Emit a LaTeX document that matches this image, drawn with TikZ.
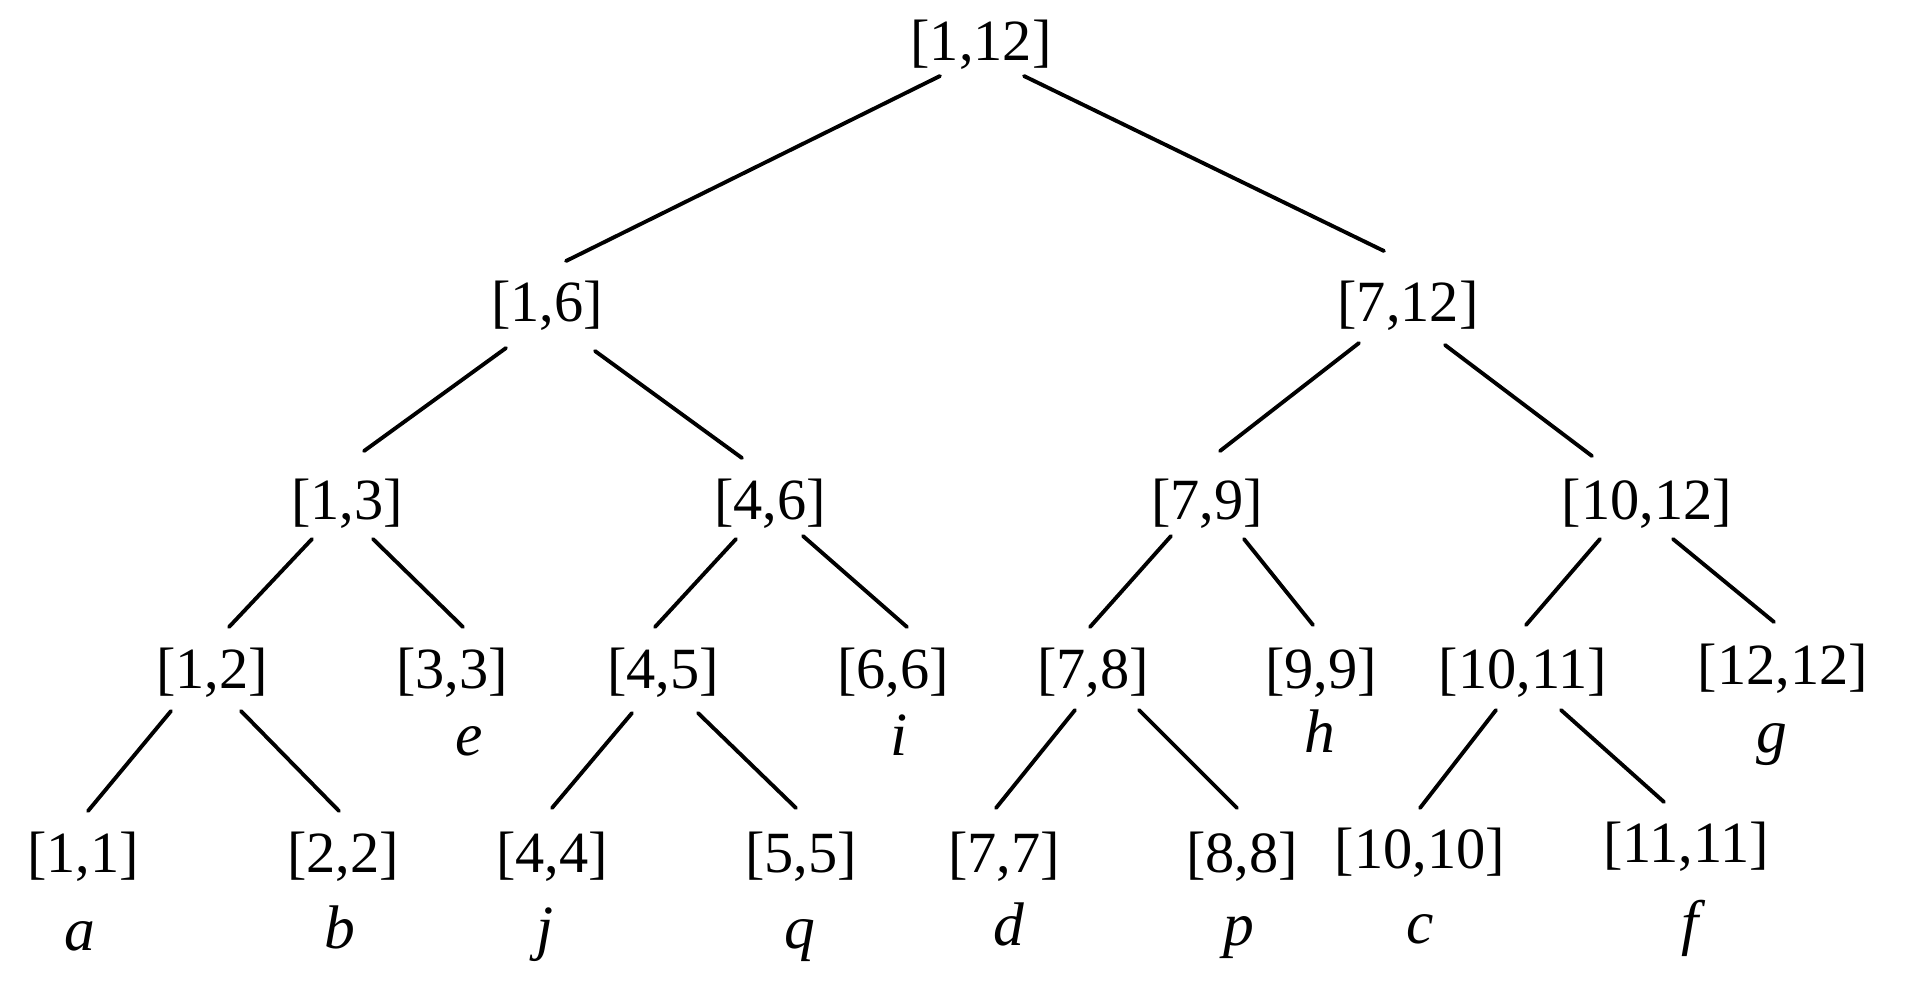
\documentclass[tikz,border=0pt]{standalone}
\usepackage{fontspec}
\setmainfont{Liberation Serif}
\begin{document}
\begin{tikzpicture}[x=0.01cm,y=-0.01cm,
 lab/.style={inner sep=0pt, font=\fontsize{16.6}{20}\selectfont},
 let/.style={inner sep=0pt, anchor=base, font=\fontsize{17.5}{20}\selectfont\itshape},
 edge/.style={line width=1.1pt, line cap=round}]
\useasboundingbox[fill=white] (0,0) rectangle (1920,1002);
% level 0-5 labels
\node[lab] (r) at (981,45) {[1,12]};
\node[lab] (n16) at (547,306) {[1,6]};
\node[lab] (n712) at (1408,306) {[7,12]};
\node[lab] (n13) at (347,504) {[1,3]};
\node[lab] (n46) at (770,504) {[4,6]};
\node[lab] (n79) at (1207,504) {[7,9]};
\node[lab] (n1012) at (1647,504) {[10,12]};
\node[lab] (n12) at (212,673) {[1,2]};
\node[lab] (n33) at (452,673) {[3,3]};
\node[lab] (n45) at (663,673) {[4,5]};
\node[lab] (n66) at (893,673) {[6,6]};
\node[lab] (n78) at (1093,673) {[7,8]};
\node[lab] (n99) at (1321,673) {[9,9]};
\node[lab] (n1011) at (1523,673) {[10,11]};
\node[lab] (n1212) at (1783,669) {[12,12]};
\node[lab] (n11) at (83,857) {[1,1]};
\node[lab] (n22) at (343,857) {[2,2]};
\node[lab] (n44) at (552,857) {[4,4]};
\node[lab] (n55) at (801,857) {[5,5]};
\node[lab] (n77) at (1004,857) {[7,7]};
\node[lab] (n88) at (1242,857) {[8,8]};
\node[lab] (n1010) at (1420,853) {[10,10]};
\node[lab] (n1111) at (1686,847) {[11,11]};
% letters
\node[let] (le) at (469,755) {e};
\node[let] (li) at (899,755) {i};
\node[let] (lh) at (1320,752) {h};
\node[let] (lg) at (1772,752) {g};
\node[let] (la) at (80,950) {a};
\node[let] (lb) at (340,948) {b};
\node[let] (lj) at (545,948) {j};
\node[let] (lq) at (800,948) {q};
\node[let] (ld) at (1009,945) {d};
\node[let] (lp) at (1239,945) {p};
\node[let] (lc) at (1420,943) {c};
\node[let] (lf) at (1690,943) {f};
% edges
\draw[edge] ([shift={(-41,31)}]r.center) -- ([shift={(19,-45)}]n16.center);
\draw[edge] ([shift={(43,31)}]r.center) -- ([shift={(-24,-55)}]n712.center);
\draw[edge] ([shift={(-41,42)}]n16.center) -- ([shift={(17,-53)}]n13.center);
\draw[edge] ([shift={(48,45)}]n16.center) -- ([shift={(-28,-46)}]n46.center);
\draw[edge] ([shift={(-49,37)}]n712.center) -- ([shift={(13,-53)}]n79.center);
\draw[edge] ([shift={(37,39)}]n712.center) -- ([shift={(-55,-48)}]n1012.center);
\draw[edge] ([shift={(-35,35)}]n13.center) -- ([shift={(17,-46)}]n12.center);
\draw[edge] ([shift={(26,35)}]n13.center) -- ([shift={(11,-46)}]n33.center);
\draw[edge] ([shift={(-34,35)}]n46.center) -- ([shift={(-8,-46)}]n45.center);
\draw[edge] ([shift={(33,32)}]n46.center) -- ([shift={(14,-46)}]n66.center);
\draw[edge] ([shift={(-36,32)}]n79.center) -- ([shift={(-3,-46)}]n78.center);
\draw[edge] ([shift={(37,35)}]n79.center) -- ([shift={(-8,-48)}]n99.center);
\draw[edge] ([shift={(-47,35)}]n1012.center) -- ([shift={(3,-48)}]n1011.center);
\draw[edge] ([shift={(26,35)}]n1012.center) -- ([shift={(-9,-47)}]n1212.center);
\draw[edge] ([shift={(-41,38)}]n12.center) -- ([shift={(5,-46)}]n11.center);
\draw[edge] ([shift={(29,38)}]n12.center) -- ([shift={(-4,-46)}]n22.center);
\draw[edge] ([shift={(-31,40)}]n45.center) -- ([shift={(0,-49)}]n44.center);
\draw[edge] ([shift={(35,40)}]n45.center) -- ([shift={(-5,-49)}]n55.center);
\draw[edge] ([shift={(-18,37)}]n78.center) -- ([shift={(-8,-49)}]n77.center);
\draw[edge] ([shift={(46,37)}]n78.center) -- ([shift={(-5,-49)}]n88.center);
\draw[edge] ([shift={(-27,37)}]n1011.center) -- ([shift={(0,-45)}]n1010.center);
\draw[edge] ([shift={(38,37)}]n1011.center) -- ([shift={(-22,-45)}]n1111.center);
\end{tikzpicture}
\end{document}
